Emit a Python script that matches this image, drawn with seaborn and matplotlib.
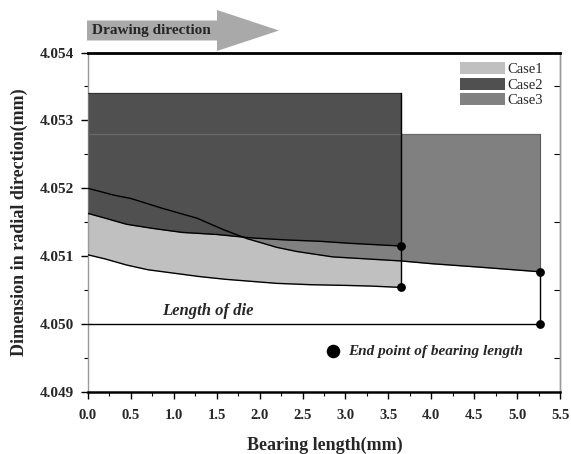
import matplotlib
matplotlib.use("Agg")
import matplotlib.pyplot as plt
from matplotlib.patches import Patch, Polygon
from matplotlib.ticker import MultipleLocator, FormatStrFormatter
import seaborn as sns
import numpy as np

# ---------------- data ----------------
case1_x = [0.0, 0.2, 0.45, 0.7, 1.0, 1.3, 1.6, 1.9, 2.2, 2.6, 3.0, 3.3, 3.65]
case1_y = [4.05102, 4.05096, 4.05087, 4.05080, 4.05075, 4.05070, 4.05066,
           4.05063, 4.05060, 4.05058, 4.05057, 4.05056, 4.05054]

case2_x = [0.0, 0.2, 0.45, 0.75, 1.1, 1.5, 1.9, 2.3, 2.7, 3.05, 3.65]
case2_y = [4.05163, 4.05156, 4.05147, 4.05141, 4.05135, 4.05132, 4.05127,
           4.05124, 4.05122, 4.05119, 4.05115]

case3_x = [0.0, 0.3, 0.5, 0.88, 1.27, 1.58, 1.85, 2.04, 2.2, 2.43, 2.85,
           3.25, 3.65, 4.0, 4.55, 5.27]
case3_y = [4.05200, 4.05190, 4.05185, 4.05170, 4.05156, 4.05139, 4.05126,
           4.05119, 4.05113, 4.05107, 4.05099, 4.05096, 4.05093, 4.05089,
           4.05084, 4.05077]

case2_top = 4.0534
case3_top = 4.0528
die_level = 4.0500
die_length = 5.27

end_x = [3.65, 3.65, 5.27, 5.27]
end_y = [4.05115, 4.05054, 4.05077, 4.0500]

legend_dot_x = [2.86]
legend_dot_y = [4.0496]

case_labels = ["Case1", "Case2", "Case3"]
case_colors = ["#c0c0c0", "#505050", "#808080"]

# ---------------- style ----------------
sns.set_theme(style="white")
plt.rcParams["font.family"] = ["Liberation Serif", "DejaVu Serif"]

fig = plt.figure(figsize=(5.71, 4.54), dpi=100)
ax = fig.add_axes([0.15412, 0.13656, 0.82662, 0.74780])

# fills (drawn light -> medium -> dark)
ax.fill_between(case1_x, case1_y, case3_top, color=case_colors[0], lw=0, zorder=1)
ax.fill_between(case3_x, case3_y, case3_top, color=case_colors[2], lw=0, zorder=2)
ax.fill_between(case2_x, case2_y, case2_top, color=case_colors[1], lw=0, zorder=3)

# edges of the regions
ax.plot([case3_x[0], case3_x[-1]], [case3_top, case3_top], color="#6a6a6a", lw=0.9, zorder=4)
ax.plot([case2_x[0], case2_x[-1]], [case2_top, case2_top], color="#333333", lw=0.9, zorder=4)
ax.plot([case3_x[-1], case3_x[-1]], [case3_top, case3_y[-1]], color="#5a5a5a", lw=0.8, zorder=4)

# profile lines
for xs, ys in [(case1_x, case1_y), (case2_x, case2_y), (case3_x, case3_y)]:
    sns.lineplot(x=xs, y=ys, ax=ax, color="black", lw=1.0, sort=False,
                 estimator=None, zorder=5)

# end-of-bearing vertical lines and die length line
ax.plot([end_x[0], end_x[1]], [case2_top, end_y[1]], color="black", lw=1.0, zorder=5)
ax.plot([end_x[2], end_x[3]], [end_y[2], end_y[3]], color="black", lw=1.0, zorder=5)
ax.plot([0, die_length], [die_level, die_level], color="black", lw=1.0, zorder=5)

sns.scatterplot(x=end_x, y=end_y, ax=ax, color="black", s=40, edgecolor="black",
                linewidth=0, zorder=6, legend=False, clip_on=False)
sns.scatterplot(x=legend_dot_x, y=legend_dot_y, ax=ax, color="black", s=95,
                edgecolor="black", linewidth=0, zorder=6, legend=False)

ax.text(0.86, 4.05013, "Length of die", fontsize=12, fontweight="bold",
        fontstyle="italic", ha="left", va="baseline", zorder=7)
ax.text(3.03, 4.04954, "End point of bearing length", fontsize=11,
        fontweight="bold", fontstyle="italic", ha="left", va="baseline", zorder=7)

# axes
ax.set_xlim(0, 5.5)
ax.set_ylim(4.049, 4.054)
ax.xaxis.set_major_locator(MultipleLocator(0.5))
ax.xaxis.set_minor_locator(MultipleLocator(0.25))
ax.yaxis.set_major_locator(MultipleLocator(0.001))
ax.yaxis.set_minor_locator(MultipleLocator(0.0005))
ax.xaxis.set_major_formatter(FormatStrFormatter("%.1f"))
ax.yaxis.set_major_formatter(FormatStrFormatter("%.3f"))
ax.tick_params(axis="both", which="major", direction="out", length=5, width=1,
               color="black", bottom=True, left=True)
ax.tick_params(axis="both", which="minor", direction="out", length=3, width=0.8,
               color="black", bottom=True, left=True)
ax.tick_params(axis="x", which="major", pad=7, labelsize=10.5)
ax.tick_params(axis="y", which="major", pad=5, labelsize=11)
for lab in ax.get_xticklabels() + ax.get_yticklabels():
    lab.set_fontweight("bold")

ax.spines["top"].set_color("black")
ax.spines["top"].set_linewidth(2.0)
ax.spines["bottom"].set_color("black")
ax.spines["bottom"].set_linewidth(1.8)
ax.spines["left"].set_color("#9a9a9a")
ax.spines["left"].set_linewidth(1.0)
ax.spines["right"].set_color("#9a9a9a")
ax.spines["right"].set_linewidth(1.0)

sec = ax.secondary_yaxis("right")
sec.set_yticks([4.0495, 4.0505, 4.0515, 4.0525, 4.0535])
sec.tick_params(direction="in", length=4, width=0.8, color="black",
                labelright=False)
sec.spines["right"].set_color("#9a9a9a")
sec.spines["right"].set_linewidth(1.0)

ax.set_xlabel("Bearing length(mm)", fontsize=13, fontweight="bold")
ax.set_ylabel("Dimension in radial direction(mm)", fontsize=13, fontweight="bold")
ax.xaxis.set_label_coords(0.502, -0.132)
ax.xaxis.label.set_va("top")
ax.yaxis.set_label_coords(-0.128, 0.5)

# legend
handles = [Patch(facecolor=c, edgecolor="none") for c in case_colors]
leg = ax.legend(handles, case_labels, loc="upper right",
                bbox_to_anchor=(0.963, 0.972), frameon=False, fontsize=10.5,
                handlelength=3.1, handleheight=0.9, labelspacing=0.1,
                handletextpad=0.12, borderaxespad=0, borderpad=0)
leg.set_zorder(10)

# drawing direction arrow (figure pixel geometry)
W, H = 571.0, 454.0
arrow_px = [(87, 20.5), (217, 20.5), (217, 10), (279, 30.5),
            (217, 51), (217, 40.5), (87, 40.5)]
arrow = Polygon([(x / W, 1 - y / H) for x, y in arrow_px], closed=True,
                transform=fig.transFigure, facecolor="#a9a9a9", edgecolor="none")
fig.add_artist(arrow)
fig.text(92 / W, 1 - 30.5 / H, "Drawing direction", fontsize=11,
         fontweight="bold", ha="left", va="center")

fig.savefig("out.png", dpi=100)
